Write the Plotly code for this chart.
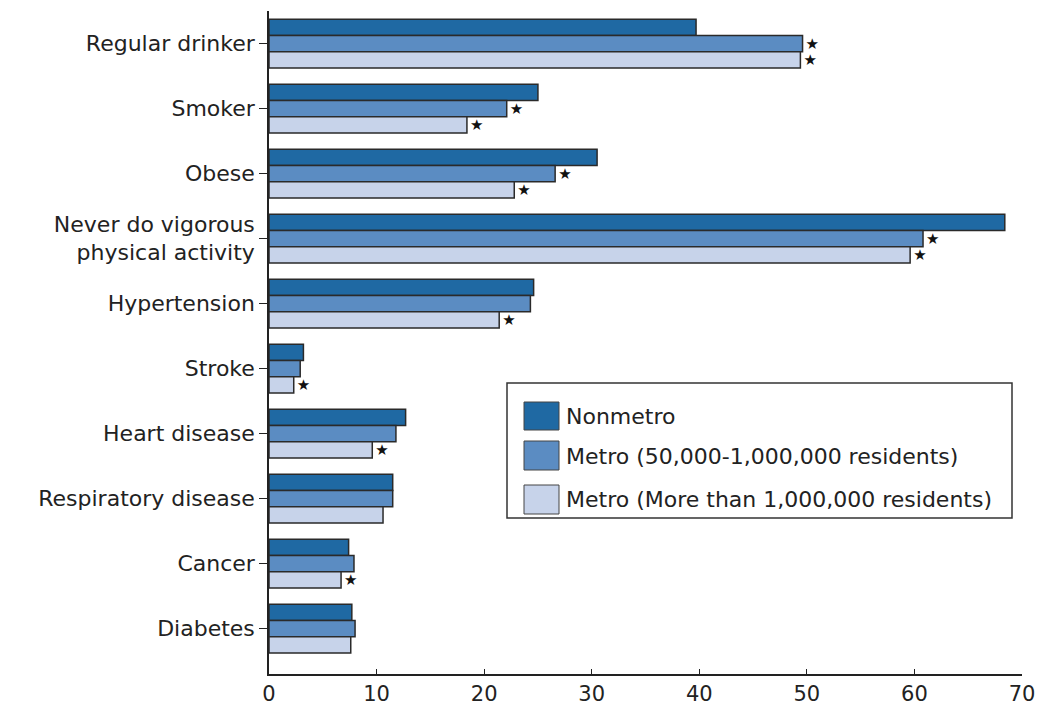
import plotly.graph_objects as go

categories = ["Regular drinker", "Smoker", "Obese",
              "Never do vigorous<br>physical activity", "Hypertension",
              "Stroke", "Heart disease", "Respiratory disease", "Cancer", "Diabetes"]
series_names = ["Nonmetro", "Metro (50,000-1,000,000 residents)",
                "Metro (More than 1,000,000 residents)"]
nonmetro = [39.7, 25.0, 30.5, 68.4, 24.6, 3.2, 12.7, 11.5, 7.4, 7.7]
metro_mid = [49.6, 22.1, 26.6, 60.8, 24.3, 2.9, 11.8, 11.5, 7.9, 8.0]
metro_large = [49.4, 18.4, 22.8, 59.6, 21.4, 2.3, 9.6, 10.6, 6.7, 7.6]
# significance markers (star = significant difference vs nonmetro)
sig_nonmetro = [False] * 10
sig_mid = [True, True, True, True, False, False, False, False, False, False]
sig_large = [True, True, True, True, True, True, True, False, True, False]
x_ticks = [0, 10, 20, 30, 40, 50, 60, 70]

colors = ["#1f69a3", "#5b8cc2", "#c7d3ea"]
values = [nonmetro, metro_mid, metro_large]
sigs = [sig_nonmetro, sig_mid, sig_large]

W, H = 1039, 710
L, R, T, B = 269, 17, 11, 36
FONT = "DejaVu Sans"

fig = go.Figure()
ypos = list(range(len(categories)))
for name, vals, col, sg in zip(series_names, values, colors, sigs):
    fig.add_trace(go.Bar(
        y=ypos, x=vals, orientation="h", name=name,
        marker=dict(color=col, line=dict(color="#2a2a2a", width=1.5)),
        text=["★" if s else "" for s in sg],
        textposition="outside", constraintext="none", cliponaxis=False,
        outsidetextfont=dict(family=FONT, size=15, color="#111111"),
        showlegend=False, hoverinfo="x+name",
    ))

fig.update_layout(
    width=W, height=H,
    margin=dict(l=L, r=R, t=T, b=B, pad=0, autoexpand=False),
    paper_bgcolor="white", plot_bgcolor="white",
    barmode="group", bargap=0.25, bargroupgap=0.0,
    font=dict(family=FONT, size=22, color="#222222"),
    xaxis=dict(range=[0, 70], tickvals=x_ticks, ticktext=[str(v) for v in x_ticks],
               automargin=False,
               showgrid=False, zeroline=False, showline=True, linecolor="#222222",
               linewidth=1.5, ticks="inside", ticklen=5, tickcolor="#222222",
               tickfont=dict(family=FONT, size=21, color="#222222")),
    yaxis=dict(range=[9.7, -0.5], tickvals=ypos, ticktext=categories,
               automargin=False,
               showgrid=False, zeroline=False, showline=True, linecolor="#222222",
               linewidth=1.5, ticks="outside", ticklen=8, tickcolor="#222222",
               tickfont=dict(family=FONT, size=22, color="#222222")),
)

# custom legend (box + swatches + labels) in paper coordinates
pw, ph = W - L - R, H - T - B
def px(x):
    return (x - L) / pw
def py(y):
    return (H - B - y) / ph

fig.add_shape(type="rect", xref="paper", yref="paper",
              x0=px(507), x1=px(1012), y0=py(518), y1=py(383),
              line=dict(color="#333333", width=1.5), fillcolor="white")
rows = [(402, 430, 416), (441, 470, 456), (485, 514, 499)]
for (y0, y1, yc), name, col in zip(rows, series_names, colors):
    fig.add_shape(type="rect", xref="paper", yref="paper",
                  x0=px(524), x1=px(559), y0=py(y1), y1=py(y0),
                  line=dict(color="#444444", width=1), fillcolor=col)
    fig.add_annotation(xref="paper", yref="paper", x=px(564), y=py(yc),
                       text=name, showarrow=False, xanchor="left", yanchor="middle",
                       font=dict(family=FONT, size=22, color="#222222"))

fig.write_html("out.html")
